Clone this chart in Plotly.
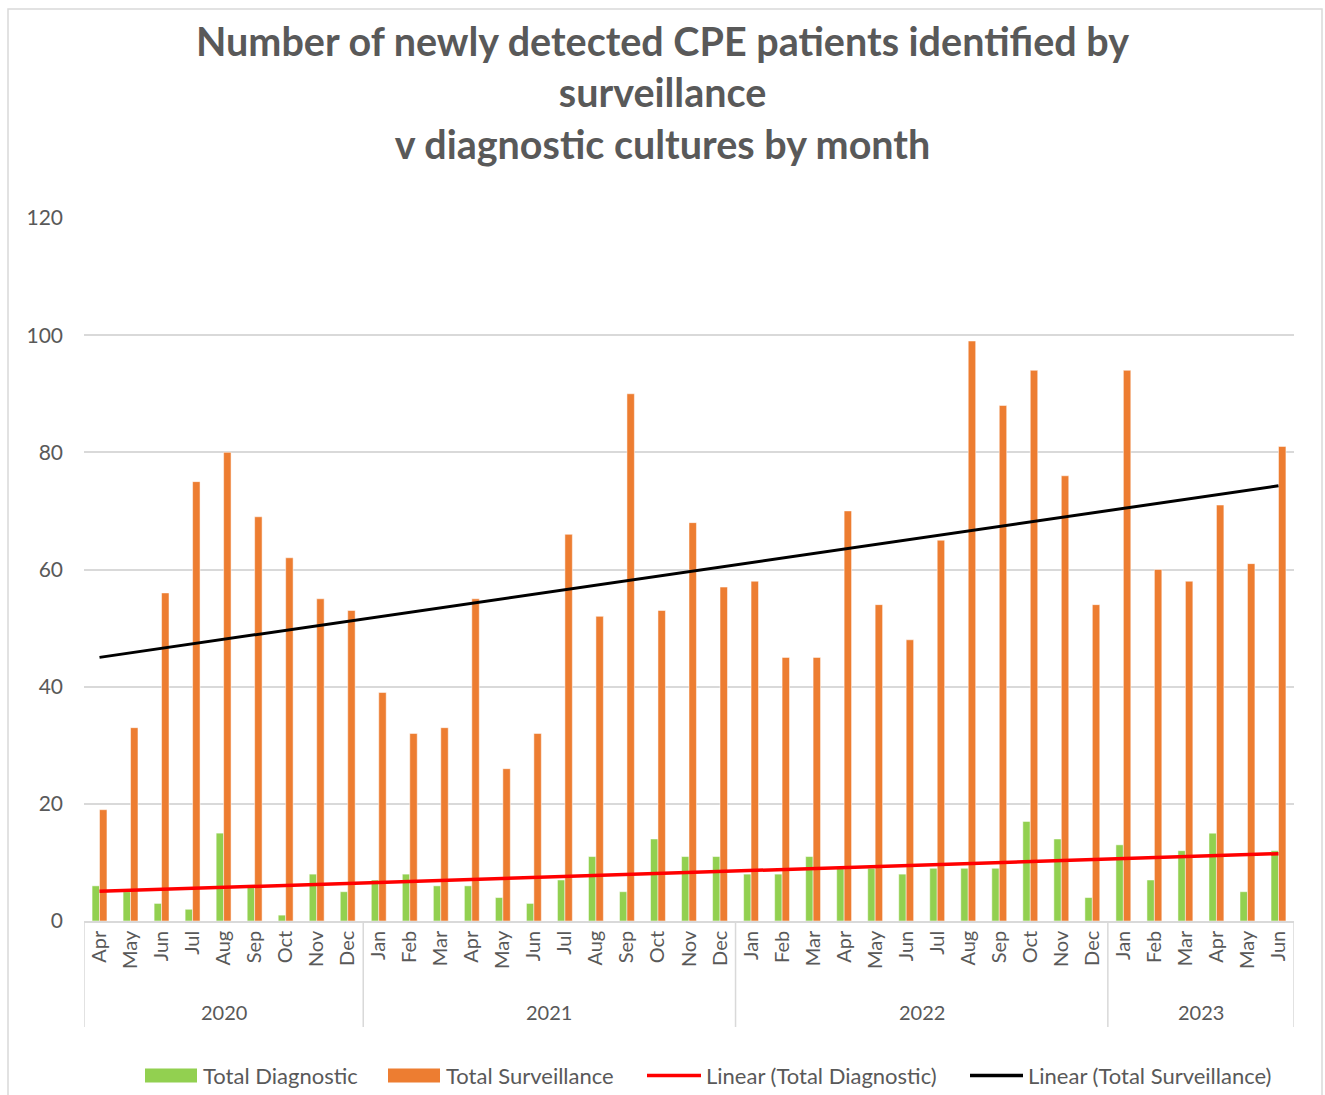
import numpy as np
import plotly.graph_objects as go

months = ["Apr","May","Jun","Jul","Aug","Sep","Oct","Nov","Dec",
          "Jan","Feb","Mar","Apr","May","Jun","Jul","Aug","Sep","Oct","Nov","Dec",
          "Jan","Feb","Mar","Apr","May","Jun","Jul","Aug","Sep","Oct","Nov","Dec",
          "Jan","Feb","Mar","Apr","May","Jun"]
years = ["2020"]*9 + ["2021"]*12 + ["2022"]*12 + ["2023"]*6
diagnostic = [6,5,3,2,15,6,1,8,5,
              7,8,6,6,4,3,7,11,5,14,11,11,
              8,8,11,9,9,8,9,9,9,17,14,4,
              13,7,12,15,5,12]
surveillance = [19,33,56,75,80,69,62,55,53,
                39,32,33,55,26,32,66,52,90,53,68,57,
                58,45,45,70,54,48,65,99,88,94,76,54,
                94,60,58,71,61,81]
y_ticks = [0,20,40,60,80,100,120]

GREEN = "#92D050"; ORANGE = "#ED7D31"; RED = "#FF0000"; BLACK = "#000000"; GREY = "#595959"
FONT = "Lato"

# plot-area geometry (pixels) used to place layout items
L, R, T, B = 84, 1294, 218, 921
def px(x): return (x - L) / (R - L)
def py(y): return (B - y) / (B - T)

idx = np.arange(len(months))
pd_ = np.polyfit(idx, diagnostic, 1)
ps_ = np.polyfit(idx, surveillance, 1)
trend_x = [idx[0], idx[-1]]

fig = go.Figure()
fig.add_trace(go.Bar(x=idx, y=diagnostic, name="Total Diagnostic",
                     marker=dict(color=GREEN, line=dict(color="white", width=0.5))))
fig.add_trace(go.Bar(x=idx, y=surveillance, name="Total Surveillance",
                     marker=dict(color=ORANGE, line=dict(color="white", width=0.5))))
fig.add_trace(go.Scatter(x=trend_x, y=np.polyval(pd_, trend_x), mode="lines",
                         name="Linear (Total Diagnostic)", line=dict(color=RED, width=3.5)))
fig.add_trace(go.Scatter(x=trend_x, y=np.polyval(ps_, trend_x), mode="lines",
                         name="Linear (Total Surveillance)", line=dict(color=BLACK, width=3)))

# year group dividers and labels
bounds = [-0.5]
groups = []
start = 0
for i in range(1, len(years)+1):
    if i == len(years) or years[i] != years[start]:
        groups.append((years[start], start, i-1))
        bounds.append(i-0.5)
        start = i
shapes = []
for b in bounds:
    shapes.append(dict(type="line", xref="x", yref="paper", x0=b, x1=b, y0=0, y1=py(1027),
                       line=dict(color="#D9D9D9", width=1.5)))
annotations = []
for name, s, e in groups:
    annotations.append(dict(x=(s+e)/2, y=py(1012), xref="x", yref="paper", text=name,
                            yanchor="middle", showarrow=False,
                            font=dict(family=FONT, size=20, color=GREY)))
annotations.append(dict(
    text="<b>Number of newly detected CPE patients identified by<br>surveillance<br>v diagnostic cultures by month</b>",
    xref="paper", yref="paper", x=px(662), y=py(15), xanchor="center", yanchor="top",
    showarrow=False, font=dict(family=FONT, size=39.5, color=GREY)))
shapes.append(dict(type="rect", xref="paper", yref="paper", x0=px(8), x1=px(1322),
                   y0=py(1098), y1=py(9), line=dict(color="#D9D9D9", width=1.5), layer="below"))

# legend (drawn to match the reference's wide swatches)
legend_items = [
    ("rect", GREEN, 145, 197, "Total Diagnostic", 201),
    ("rect", ORANGE, 388, 440, "Total Surveillance", 444),
    ("line", RED, 647, 701, "Linear (Total Diagnostic)", 704),
    ("line", BLACK, 970, 1023, "Linear (Total Surveillance)", 1026),
]
LY = 1075.5
for kind, col, x0, x1, label, tx in legend_items:
    if kind == "rect":
        shapes.append(dict(type="rect", xref="paper", yref="paper", x0=px(x0), x1=px(x1),
                           y0=py(LY + 7), y1=py(LY - 7), fillcolor=col, line=dict(width=0)))
    else:
        shapes.append(dict(type="line", xref="paper", yref="paper", x0=px(x0), x1=px(x1),
                           y0=py(LY), y1=py(LY), line=dict(color=col, width=3.5)))
    annotations.append(dict(text=label, xref="paper", yref="paper", x=px(tx), y=py(LY),
                            xanchor="left", yanchor="middle", showarrow=False,
                            font=dict(family=FONT, size=22, color=GREY)))

fig.update_layout(
    width=1325, height=1095,
    margin=dict(l=L, r=1325 - R, t=T, b=1095 - B),
    paper_bgcolor="white", plot_bgcolor="white",
    showlegend=False,
    barmode="group", bargap=0.52, bargroupgap=0,
    xaxis=dict(range=[-0.5, len(months)-0.5], tickmode="array", tickvals=idx, ticktext=months,
               tickangle=-90, showgrid=False, showline=True, linecolor="#D9D9D9", linewidth=1.5,
               ticks="", tickfont=dict(family=FONT, size=20, color=GREY), zeroline=False),
    yaxis=dict(range=[0, 120], tickvals=y_ticks, showgrid=True, gridcolor="#D9D9D9", gridwidth=1.5,
               zeroline=False, showline=False, ticks="", ticklen=0, ticklabelstandoff=20,
               tickfont=dict(family=FONT, size=21, color=GREY)),
    shapes=shapes, annotations=annotations,
)
fig.write_html("out.html", config={"displayModeBar": False},
               post_script="document.body.style.margin='0px';")
